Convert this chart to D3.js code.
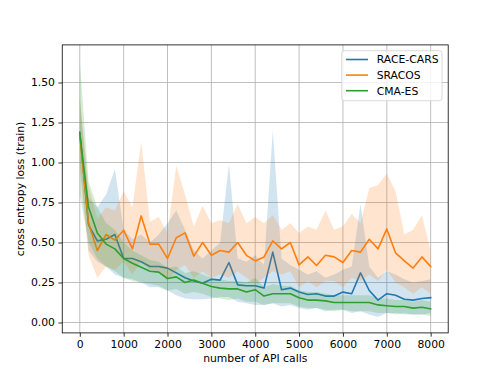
<!DOCTYPE html>
<html>
<head>
<meta charset="utf-8">
<script src="https://cdn.jsdelivr.net/npm/d3@7"></script>
<style>
  body { margin: 0; background: #fff; }
  svg { display: block; font-family: "DejaVu Sans", sans-serif; }
</style>
</head>
<body>
<svg id="chart" width="498" height="374"></svg>
<script>
// x positions: API calls, every 200
var calls = d3.range(0, 8001, 200);

// RACE-CARS
var raceMean = [1.19, 0.61, 0.51, 0.52, 0.55, 0.40, 0.40, 0.38, 0.35, 0.35, 0.34, 0.31, 0.28, 0.26, 0.245, 0.27, 0.265, 0.375, 0.235, 0.23,
                0.23, 0.215, 0.44, 0.205, 0.215, 0.19, 0.175, 0.18, 0.165, 0.165, 0.19, 0.18, 0.31, 0.20, 0.14, 0.18, 0.17, 0.145, 0.14, 0.15, 0.155];
var raceHi = [1.40, 0.78, 0.72, 0.80, 0.96, 0.58, 0.52, 0.55, 0.50, 0.55, 0.62, 0.70, 0.58, 0.45, 0.40, 0.45, 0.50, 0.99, 0.40, 0.38,
              0.42, 0.36, 1.20, 0.40, 0.36, 0.33, 0.30, 0.32, 0.28, 0.30, 0.33, 0.35, 0.74, 0.35, 0.28, 0.32, 0.30, 0.27, 0.25, 0.26, 0.27];
var raceLo = [1.00, 0.45, 0.38, 0.35, 0.30, 0.28, 0.27, 0.25, 0.22, 0.22, 0.20, 0.17, 0.15, 0.145, 0.145, 0.15, 0.16, 0.16, 0.13, 0.12,
              0.11, 0.11, 0.12, 0.10, 0.11, 0.09, 0.08, 0.09, 0.07, 0.08, 0.08, 0.06, 0.07, 0.05, 0.035, 0.06, 0.06, 0.05, 0.05, 0.05, 0.06];

// SRACOS
var sracosMean = [1.17, 0.62, 0.45, 0.55, 0.515, 0.577, 0.46, 0.666, 0.49, 0.49, 0.40, 0.53, 0.56, 0.415, 0.50, 0.42, 0.45, 0.44, 0.50, 0.42,
                  0.385, 0.41, 0.51, 0.46, 0.50, 0.36, 0.41, 0.356, 0.42, 0.41, 0.375, 0.45, 0.44, 0.52, 0.46, 0.585, 0.435, 0.385, 0.34, 0.41, 0.35];
var sracosHi = [1.40, 0.85, 0.65, 0.72, 0.70, 0.82, 0.72, 1.13, 0.63, 0.66, 0.56, 0.98, 0.80, 0.60, 0.73, 0.62, 0.64, 0.62, 0.74, 0.62,
                0.66, 0.62, 0.67, 0.58, 0.62, 0.56, 0.60, 0.58, 0.70, 0.58, 0.60, 0.68, 0.62, 0.84, 0.86, 0.93, 0.82, 0.55, 0.58, 0.67, 0.45];
var sracosLo = [0.95, 0.42, 0.28, 0.35, 0.33, 0.38, 0.30, 0.38, 0.33, 0.32, 0.26, 0.33, 0.36, 0.28, 0.32, 0.28, 0.30, 0.28, 0.32, 0.28,
                0.24, 0.28, 0.32, 0.30, 0.32, 0.22, 0.26, 0.22, 0.26, 0.26, 0.22, 0.28, 0.26, 0.30, 0.26, 0.33, 0.25, 0.22, 0.18, 0.22, 0.18];

// CMA-ES
var cmaMean = [1.18, 0.72, 0.56, 0.49, 0.46, 0.40, 0.37, 0.345, 0.32, 0.315, 0.275, 0.285, 0.25, 0.265, 0.245, 0.225, 0.215, 0.21, 0.21, 0.19,
               0.205, 0.165, 0.18, 0.18, 0.18, 0.155, 0.14, 0.14, 0.135, 0.125, 0.125, 0.125, 0.125, 0.125, 0.11, 0.105, 0.10, 0.10, 0.09, 0.095, 0.085];
var cmaHi = [1.63, 0.88, 0.72, 0.62, 0.58, 0.50, 0.45, 0.42, 0.39, 0.38, 0.34, 0.35, 0.31, 0.32, 0.30, 0.28, 0.27, 0.26, 0.26, 0.25,
             0.28, 0.22, 0.24, 0.23, 0.23, 0.20, 0.19, 0.19, 0.18, 0.17, 0.17, 0.17, 0.17, 0.17, 0.15, 0.15, 0.14, 0.14, 0.13, 0.14, 0.13];
var cmaLo = [0.80, 0.50, 0.40, 0.35, 0.32, 0.28, 0.26, 0.25, 0.24, 0.23, 0.20, 0.21, 0.18, 0.19, 0.18, 0.16, 0.15, 0.14, 0.15, 0.13,
             0.13, 0.11, 0.12, 0.12, 0.12, 0.10, 0.09, 0.09, 0.08, 0.07, 0.08, 0.07, 0.07, 0.07, 0.06, 0.06, 0.05, 0.06, 0.05, 0.05, 0.04];

var xTicks = [0, 1000, 2000, 3000, 4000, 5000, 6000, 7000, 8000];
var yTicks = [0, 0.25, 0.5, 0.75, 1.0, 1.25, 1.5];

var series = [
    {name: "RACE-CARS", color: "#1f77b4", mean: raceMean, hi: raceHi, lo: raceLo},
    {name: "SRACOS", color: "#ff7f0e", mean: sracosMean, hi: sracosHi, lo: sracosLo},
    {name: "CMA-ES", color: "#2ca02c", mean: cmaMean, hi: cmaHi, lo: cmaLo}
];

var svg = d3.select("#chart");
var axLeft = 62.25, axRight = 448.2, axTop = 44.9, axBottom = 332.9;
var fs = 10.8;

var x = d3.scaleLinear().domain([-400, 8400]).range([axLeft, axRight]);
var y = d3.scaleLinear().domain([-0.065, 1.735]).range([axBottom, axTop]);

svg.append("defs").append("clipPath").attr("id", "clip")
    .append("rect")
    .attr("x", axLeft).attr("y", axTop)
    .attr("width", axRight - axLeft).attr("height", axBottom - axTop);

// grid
var grid = svg.append("g");
grid.selectAll(".vg").data(xTicks).enter().append("line")
    .attr("x1", function(d) { return x(d); }).attr("x2", function(d) { return x(d); })
    .attr("y1", axTop).attr("y2", axBottom)
    .attr("stroke", "#b0b0b0").attr("stroke-width", 0.8);
grid.selectAll(".hg").data(yTicks).enter().append("line")
    .attr("y1", function(d) { return y(d); }).attr("y2", function(d) { return y(d); })
    .attr("x1", axLeft).attr("x2", axRight)
    .attr("stroke", "#b0b0b0").attr("stroke-width", 0.8);

var plot = svg.append("g").attr("clip-path", "url(#clip)");

series.forEach(function(s) {
    var area = d3.area()
        .x(function(d, i) { return x(calls[i]); })
        .y0(function(d, i) { return y(s.lo[i]); })
        .y1(function(d, i) { return y(s.hi[i]); });
    plot.append("path")
        .datum(s.mean)
        .attr("d", area)
        .attr("fill", s.color)
        .attr("fill-opacity", 0.2)
        .attr("stroke", "none");

    var line = d3.line()
        .x(function(d, i) { return x(calls[i]); })
        .y(function(d) { return y(d); });
    plot.append("path")
        .datum(s.mean)
        .attr("d", line)
        .attr("fill", "none")
        .attr("stroke", s.color)
        .attr("stroke-width", 1.6)
        .attr("stroke-linejoin", "round")
        .attr("stroke-linecap", "square");
});

// axes
var xAxis = svg.append("g")
    .attr("transform", "translate(0," + axBottom + ")")
    .call(d3.axisBottom(x).tickValues(xTicks).tickSize(3.8).tickPadding(3.5).tickFormat(d3.format("d")));
var yAxis = svg.append("g")
    .attr("transform", "translate(" + axLeft + ",0)")
    .call(d3.axisLeft(y).tickValues(yTicks).tickSize(3.8).tickPadding(3.5).tickFormat(d3.format(".2f")));

[xAxis, yAxis].forEach(function(a) {
    a.select(".domain").remove();
    a.selectAll("line").attr("stroke", "#000").attr("stroke-width", 0.8);
    a.selectAll("text").attr("font-size", fs).attr("font-family", "DejaVu Sans").attr("fill", "#000");
});

// spines
svg.append("rect")
    .attr("x", axLeft).attr("y", axTop)
    .attr("width", axRight - axLeft).attr("height", axBottom - axTop)
    .attr("fill", "none").attr("stroke", "#000").attr("stroke-width", 0.8);

// axis labels
svg.append("text")
    .attr("x", (axLeft + axRight) / 2).attr("y", 362)
    .attr("text-anchor", "middle")
    .attr("font-size", fs)
    .text("number of API calls");

svg.append("text")
    .attr("transform", "translate(24," + ((axTop + axBottom) / 2) + ") rotate(-90)")
    .attr("text-anchor", "middle")
    .attr("font-size", fs)
    .text("cross entropy loss (train)");

// legend
var legend = svg.append("g");
legend.append("rect")
    .attr("x", 341.7).attr("y", 50.7)
    .attr("width", 100.3).attr("height", 50)
    .attr("rx", 2.5)
    .attr("fill", "#fff").attr("fill-opacity", 0.8)
    .attr("stroke", "#d0d0d0").attr("stroke-width", 0.8);

var items = legend.selectAll(".item").data(series).enter().append("g")
    .attr("transform", function(d, i) { return "translate(0," + (59.5 + i * 15.6) + ")"; });
items.append("line")
    .attr("x1", 346).attr("x2", 368)
    .attr("stroke", function(d) { return d.color; })
    .attr("stroke-width", 1.6);
items.append("text")
    .attr("x", 376.7).attr("dy", "0.36em")
    .attr("font-size", fs)
    .text(function(d) { return d.name; });
</script>
</body>
</html>
